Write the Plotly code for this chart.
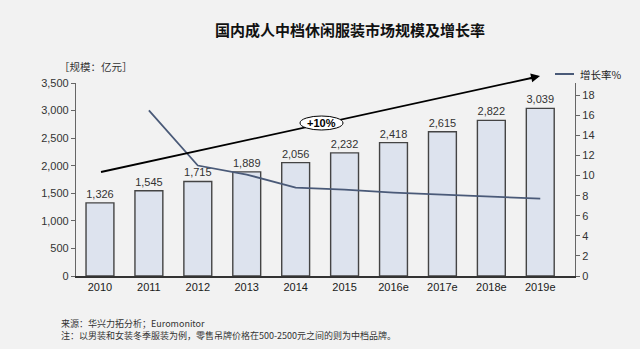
import plotly.graph_objects as go

# ---- data ----
years = ["2010", "2011", "2012", "2013", "2014", "2015", "2016e", "2017e", "2018e", "2019e"]
market_size = [1326, 1545, 1715, 1889, 2056, 2232, 2418, 2615, 2822, 3039]
growth_years = ["2011", "2012", "2013", "2014", "2015", "2016e", "2017e", "2018e", "2019e"]
growth_rate = [16.5, 11.0, 10.1, 8.8, 8.6, 8.3, 8.1, 7.9, 7.7]
left_ticks = [0, 500, 1000, 1500, 2000, 2500, 3000, 3500]
right_ticks = [0, 2, 4, 6, 8, 10, 12, 14, 16, 18]
size_labels = [f"{v:,}" for v in market_size]

title_text = "国内成人中档休闲服装市场规模及增长率"
unit_text = "［规模：亿元］"
legend_text = "增长率%"
cagr_text = "<b>+10%</b>"
note1 = "来源：华兴力拓分析；Euromonitor"
note2 = "注：以男装和女装冬季服装为例，零售吊牌价格在500-2500元之间的则为中档品牌。"

FONT = "Arial, 'Liberation Sans', 'Noto Sans CJK SC', sans-serif"
CJK = "'Noto Sans CJK SC', Arial, sans-serif"
BG = "#f2f2f2"

# plot area in pixels: x 76..575, y 83..276
L, R, T, B = 76, 575, 83, 276
def px(x):
    return (x - L) / (R - L)
def py(y):
    return (B - y) / (B - T)

fig = go.Figure()
fig.add_trace(go.Bar(
    x=years, y=market_size, width=0.57,
    marker=dict(color="#dde3ee", line=dict(color="#444444", width=1.4)),
    text=size_labels, textposition="outside", cliponaxis=False,
    textfont=dict(family=FONT, size=11, color="#333333"),
    showlegend=False, hoverinfo="skip",
))
fig.add_trace(go.Scatter(
    x=growth_years, y=growth_rate, yaxis="y2", mode="lines",
    line=dict(color="#4a5a78", width=1.8),
    showlegend=False, hoverinfo="skip",
))

# arrow
x_tail, y_tail = px(101), py(172)
x_head, y_head = px(540), py(76)
shapes = [
    dict(type="line", xref="paper", yref="paper", x0=x_tail, y0=y_tail, x1=px(536), y1=py(77),
         line=dict(color="#000000", width=1.8)),
    dict(type="circle", xref="paper", yref="paper", x0=px(300), x1=px(343), y0=py(130), y1=py(116),
         fillcolor="#ffffff", line=dict(color="#000000", width=1)),
    dict(type="line", xref="paper", yref="paper", x0=px(555), x1=px(574), y0=py(74), y1=py(74),
         line=dict(color="#4a5a78", width=2)),
]

annotations = [
    dict(xref="paper", yref="paper", x=x_head, y=y_head, ax=-11.7, ay=2.6, axref="pixel", ayref="pixel",
         text="", showarrow=True, arrowhead=2, arrowsize=1, arrowwidth=1.8, arrowcolor="#000000"),
    dict(xref="paper", yref="paper", x=px(321.5), y=py(123), text=cagr_text, showarrow=False,
         font=dict(family=FONT, size=11, color="#000000"), xanchor="center", yanchor="middle"),
    dict(xref="paper", yref="paper", x=px(578), y=py(74), text=legend_text, showarrow=False,
         font=dict(family=CJK, size=10.5, color="#222222"), xanchor="left", yanchor="middle"),
    dict(xref="paper", yref="paper", x=px(57), y=py(67), text=unit_text, showarrow=False,
         font=dict(family=CJK, size=10.5, color="#333333"), xanchor="left", yanchor="middle"),
    dict(xref="paper", yref="paper", x=px(59), y=py(323), text=note1, showarrow=False,
         font=dict(family=CJK, size=9, color="#333333"), xanchor="left", yanchor="middle"),
    dict(xref="paper", yref="paper", x=px(59), y=py(335), text=note2, showarrow=False,
         font=dict(family=CJK, size=9, color="#333333"), xanchor="left", yanchor="middle"),
]

fig.update_layout(
    width=640, height=349,
    margin=dict(l=L, r=640 - R, t=T, b=349 - B, pad=0),
    paper_bgcolor=BG, plot_bgcolor=BG,
    title=dict(text="<b>" + title_text + "</b>", x=350 / 640, y=1 - 31 / 349,
               xanchor="center", yanchor="middle", xref="container",
               font=dict(family=CJK, size=15, color="#111111")),
    xaxis=dict(type="category", range=[-0.49, 9.71], showline=True, linecolor="#333333", linewidth=1.5,
               ticks="", showgrid=False, zeroline=False,
               tickfont=dict(family=FONT, size=11, color="#1a1a1a")),
    yaxis=dict(range=[0, 3500], tickvals=left_ticks, tickformat=",", ticks="outside", ticklen=4,
               tickcolor="#666666", showline=True, linecolor="#666666", linewidth=1.2,
               showgrid=False, zeroline=False,
               tickfont=dict(family=FONT, size=11, color="#333333")),
    yaxis2=dict(overlaying="y", side="right", range=[0, 19.22], tickvals=right_ticks,
                ticks="outside", ticklen=4, tickcolor="#666666", showline=True, linecolor="#666666",
                linewidth=1.2, showgrid=False, zeroline=False,
                tickfont=dict(family=FONT, size=11, color="#333333")),
    shapes=shapes, annotations=annotations, bargap=0.4,
)

fig.write_html("out.html")
